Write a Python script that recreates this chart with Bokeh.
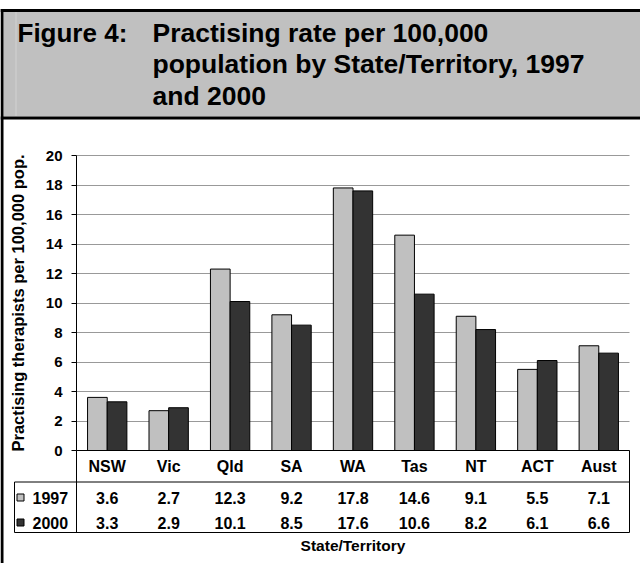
from bokeh.plotting import figure
from bokeh.models import ColumnDataSource, Range1d, FixedTicker, LinearAxis, Grid
from bokeh.transform import dodge
from bokeh.embed import file_html
from bokeh.resources import INLINE
from bokeh.core.properties import value

# ---------------- data ----------------
states = ["NSW", "Vic", "Qld", "SA", "WA", "Tas", "NT", "ACT", "Aust"]
rate_1997 = [3.6, 2.7, 12.3, 9.2, 17.8, 14.6, 9.1, 5.5, 7.1]
rate_2000 = [3.3, 2.9, 10.1, 8.5, 17.6, 10.6, 8.2, 6.1, 6.6]
series = ["1997", "2000"]
y_ticks = [0, 2, 4, 6, 8, 10, 12, 14, 16, 18, 20]
title_lead = "Figure 4:"
title_lines = ["Practising rate per 100,000",
               "population by State/Territory, 1997",
               "and 2000"]
y_title = "Practising therapists per 100,000 pop."
x_title = "State/Territory"

# ---------------- layout constants (page pixels) ----------------
W, H = 640, 563
FL, FR, FT, FB = 76, 629, 155, 450      # plot area in page pixels
YMAX = 20.0
N = len(states)
XU = (FR - FL) / N                      # px per category
YU = (FB - FT) / YMAX                   # px per unit


def X(px):
    return (px - FL) / XU


def Y(py):
    return (FB - py) / YU


FONT = "Liberation Sans"
C1997 = "#c0c0c0"
C2000 = "#333333"
GRID = "#999999"

centers = [i + 0.5 for i in range(N)]

src = ColumnDataSource(dict(
    xc=centers,
    state=states,
    r1997=rate_1997,
    r2000=rate_2000,
    t1997=[f"{v:.1f}" for v in rate_1997],
    t2000=[f"{v:.1f}" for v in rate_2000],
))

p = figure(x_range=Range1d(X(0), X(W)), y_range=Range1d(Y(H), Y(0)),
           width=W, height=H, output_backend="svg", toolbar_location=None,
           title=None, x_axis_type=None, y_axis_type=None,
           min_border=0, min_border_left=0, min_border_right=0,
           min_border_top=0, min_border_bottom=0)
p.background_fill_color = "white"
p.border_fill_color = "white"
p.outline_line_color = None
p.xgrid.visible = False
p.ygrid.visible = False

# ---------------- title band ----------------
p.quad(left=X(3), right=X(W), top=Y(11), bottom=Y(116), fill_color="#c0c0c0", line_color=None)
p.segment(x0=[X(15.5)], x1=[X(15.5)], y0=[Y(11)], y1=[Y(116)], line_color="#d2d2d2", line_width=1)
p.segment(x0=[X(0), X(0)], x1=[X(W), X(W)], y0=[Y(10), Y(117.5)], y1=[Y(10), Y(117.5)],
          line_color="black", line_width=3)
p.segment(x0=[X(1.5)], x1=[X(1.5)], y0=[Y(8.5)], y1=[Y(H)], line_color="black", line_width=3)

p.text(x=[X(17)], y=[Y(32)], text=[title_lead], text_font=value(FONT), text_font_style="bold",
       text_font_size="26px", text_color="black", text_baseline="middle")
p.text(x=[X(152)] * 3, y=[Y(32 + 31.6 * i) for i in range(3)], text=title_lines,
       text_font=value(FONT), text_font_style="bold", text_font_size="26.5px",
       text_color="black", text_baseline="middle")

# ---------------- bars ----------------
p.vbar(x=dodge("xc", -0.16), top="r1997", width=0.32, source=src,
       fill_color=C1997, line_color="black", line_width=1)
p.vbar(x=dodge("xc", 0.16), top="r2000", width=0.32, source=src,
       fill_color=C2000, line_color="black", line_width=1)

# ---------------- axes ----------------
ya = LinearAxis(ticker=FixedTicker(ticks=y_ticks), fixed_location=0, bounds=(0, YMAX))
ya.major_tick_out = 5
ya.major_tick_in = 0
ya.minor_tick_out = 0
ya.minor_tick_in = 0
ya.major_label_standoff = 9
ya.major_label_text_font = FONT
ya.major_label_text_font_style = "bold"
ya.major_label_text_font_size = "15px"
ya.major_label_text_color = "black"
ya.axis_line_color = "black"
ya.major_tick_line_color = "black"
ya.axis_label = y_title
ya.axis_label_text_font = FONT
ya.axis_label_text_font_style = "bold"
ya.axis_label_text_font_size = "16.5px"
ya.axis_label_text_color = "black"
ya.axis_label_standoff = 16
p.add_layout(ya, "left")

xa = LinearAxis(ticker=FixedTicker(ticks=centers), fixed_location=0, bounds=(0, N),
                major_label_overrides={c: s for c, s in zip(centers, states)})
xa.major_tick_out = 0
xa.major_tick_in = 0
xa.minor_tick_out = 0
xa.minor_tick_in = 0
xa.major_label_standoff = 7
xa.major_label_text_font = FONT
xa.major_label_text_font_style = "bold"
xa.major_label_text_font_size = "16px"
xa.major_label_text_color = "black"
xa.axis_line_color = "black"
xa.axis_label = x_title
xa.axis_label_text_font = FONT
xa.axis_label_text_font_style = "bold"
xa.axis_label_text_font_size = "15.5px"
xa.axis_label_text_color = "black"
xa.axis_label_standoff = 59
p.add_layout(xa, "below")

grid = Grid(dimension=1, ticker=ya.ticker, grid_line_color=GRID, grid_line_width=1)
if "cross_bounds" in grid.properties():
    grid.cross_bounds = (0, N)
p.add_layout(grid)

# ---------------- data table ----------------
p.segment(x0=[X(FL), X(FR), X(14), X(14), X(14)],
          x1=[X(FL), X(FR), X(14), X(FR), X(FR)],
          y0=[Y(FB), Y(FB), Y(481.5), Y(481.5), Y(532)],
          y1=[Y(532), Y(532), Y(532), Y(481.5), Y(532)],
          line_color="black", line_width=1)

row_y = [497, 522]
cols = ["t1997", "t2000"]
colors = [C1997, C2000]
for name, ry, col, c in zip(series, row_y, cols, colors):
    p.quad(left=[X(16.5)], right=[X(23.5)], top=[Y(ry - 3.5)], bottom=[Y(ry + 3.5)],
           fill_color=c, line_color="black", line_width=1)
    p.text(x=[X(32)], y=[Y(ry)], text=[name], text_font=value(FONT), text_font_style="bold",
           text_font_size="16px", text_color="black", text_baseline="middle")
    p.text(x="xc", y=Y(ry), text=col, source=src, text_align="center", text_baseline="middle",
           text_font=value(FONT), text_font_style="bold", text_font_size="16px",
           text_color="black")

open("out.html", "w").write(file_html(p, INLINE))
